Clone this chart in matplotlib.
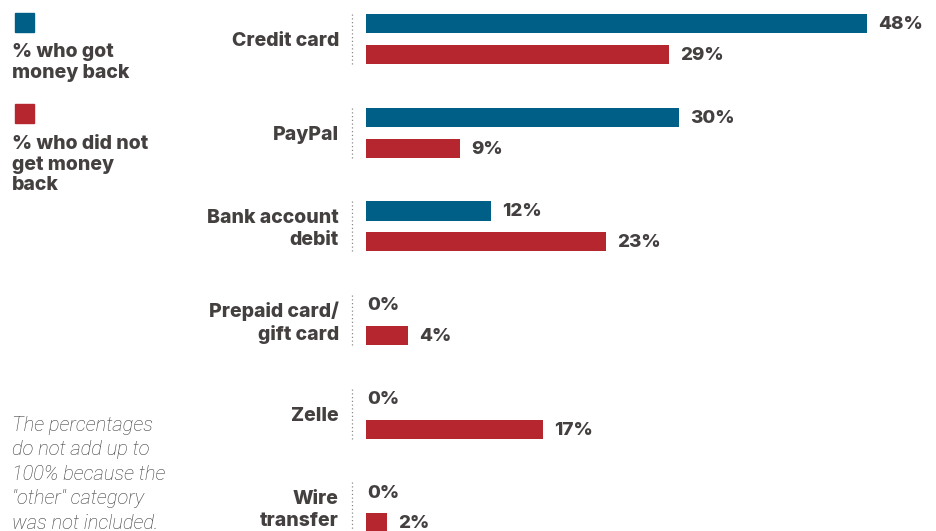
import matplotlib.pyplot as plt
from matplotlib.patches import Rectangle

categories = ["Credit card", "PayPal", "Bank account\ndebit",
              "Prepaid card/\ngift card", "Zelle", "Wire\ntransfer"]
got_back = [48, 30, 12, 0, 0, 0]
not_back = [29, 9, 23, 4, 17, 2]

BLUE = "#005f86"
RED = "#b5262f"
TXT = "#43403f"
FONT = "Inter"
FS = 14

W, H = 936, 531
fig = plt.figure(figsize=(W / 100, H / 100), dpi=100)

# axes: 1% = ~10.44 px, bars start at x=366
px_per_pct = 10.44
ax_left = 366
ax = fig.add_axes([ax_left / W, 0, (W - ax_left) / W, 1])
ax.set_xlim(0, (W - ax_left) / px_per_pct)
group_px = 93.7
first_px = 39
ax.set_ylim((H - first_px) / group_px, -first_px / group_px)
ax.axis("off")

off = 0.165
bh = 0.205
ys = list(range(len(categories)))

ax.barh([y - off for y in ys], got_back, height=bh, color=BLUE)
ax.barh([y + off for y in ys], not_back, height=bh, color=RED)

for y, g, n, cat in zip(ys, got_back, not_back, categories):
    for v, yy in ((g, y - off), (n, y + off)):
        ax.annotate(f"{v}%", (v, yy), xytext=(8 if v else 1, -0.7),
                    textcoords="offset points", va="center", ha="left",
                    fontsize=13.5, fontweight="heavy", color=TXT,
                    family=FONT)
    ax.annotate(cat, (0, y), xytext=(-19.5, -1.8), textcoords="offset points",
                ha="right", va="center", fontsize=FS, fontweight="heavy",
                color=TXT, family=FONT, linespacing=1.3,
                annotation_clip=False)
    ax.plot([-1.34, -1.34], [y - off - bh / 2, y + off + bh / 2],
            ls=(0, (1, 2)), lw=0.9, color="#8a8a8a", clip_on=False)

# legend
fig.add_artist(Rectangle((15 / W, 1 - 32 / H), 19 / W, 19 / H,
                         transform=fig.transFigure, color=BLUE))
fig.add_artist(Rectangle((15 / W, 1 - 123 / H), 19 / W, 19 / H,
                         transform=fig.transFigure, color=RED))
fig.text(12 / W, 1 - 43 / H, "% who got\nmoney back", ha="left", va="top",
         fontsize=FS, fontweight="heavy", color=TXT, family=FONT,
         linespacing=1.18)
fig.text(12 / W, 1 - 135 / H, "% who did not\nget money\nback", ha="left",
         va="top", fontsize=FS, fontweight="heavy", color=TXT, family=FONT,
         linespacing=1.18)

# note
fig.text(12 / W, 1 - 416 / H,
         "The percentages\ndo not add up to\n100% because the\n\"other\" category\nwas not included.",
         ha="left", va="top", fontsize=14.5, style="italic", fontweight="light",
         color="#3a3737", family="Roboto", linespacing=1.36)

fig.savefig("out.png", dpi=100)
